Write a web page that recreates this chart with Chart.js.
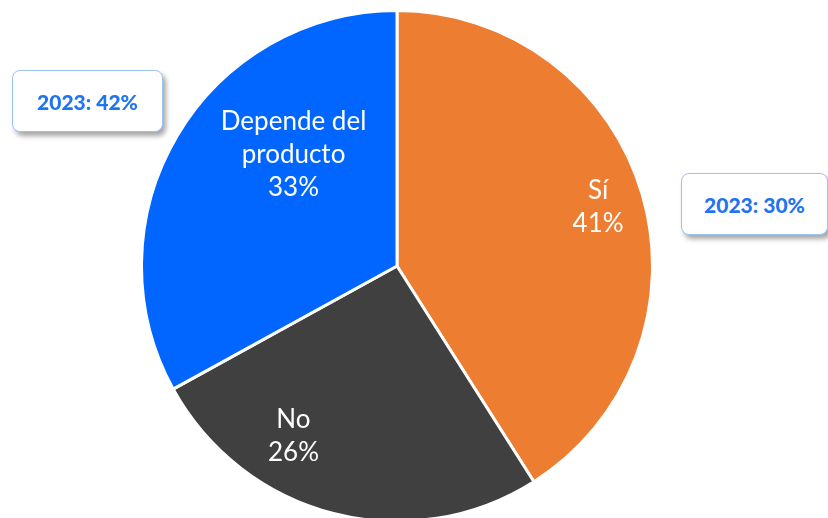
<!DOCTYPE html>
<html>
<head>
<meta charset="utf-8">
<script src="https://cdn.jsdelivr.net/npm/chart.js@4"></script>
<style>
  html, body { margin: 0; padding: 0; background: #fff; overflow: hidden; }
  body { width: 828px; height: 518px; position: relative; }
  #wrap { position: absolute; left: 140px; top: 9px; width: 514px; height: 514px; }
  .callout {
    position: absolute; box-sizing: border-box; height: 62px;
    background: #fff; border: 1px solid #9fc2f5; border-radius: 8px;
    box-shadow: 3px 4px 5px rgba(0, 0, 0, 0.35);
    font-family: Lato, sans-serif; font-weight: 900; font-size: 21px;
    color: #1f74f0; display: flex; align-items: center; justify-content: center;
  }
</style>
</head>
<body>
<div id="wrap"><canvas id="pieChart"></canvas></div>
<div class="callout" id="call2" style="left:12px; top:70px; width:151px;"></div>
<div class="callout" id="call0" style="left:681px; top:173px; width:147px;"></div>
<script>
  const categories = ['Sí', 'No', 'Depende del producto'];
  const values = [41, 26, 33];
  const colors = ['#ED7D31', '#404040', '#0066FF'];
  const prevYear = '2023';
  const prevValues = [30, null, 42];

  // label placement inside each slice: angle (deg, canvas) and fraction of radius
  const labelAngles = [-16.3, 121.3, -132.9];
  const labelRadii = [0.82, 0.78, 0.595];

  prevValues.forEach((v, i) => {
    const el = document.getElementById('call' + i);
    if (el && v !== null) el.textContent = prevYear + ': ' + v + '%';
  });

  function wrapText(ctx, text, maxWidth) {
    const words = text.split(' ');
    const lines = [];
    let line = '';
    words.forEach((w) => {
      const test = line ? line + ' ' + w : w;
      if (ctx.measureText(test).width > maxWidth && line) {
        lines.push(line);
        line = w;
      } else {
        line = test;
      }
    });
    lines.push(line);
    return lines;
  }

  const sliceLabels = {
    id: 'sliceLabels',
    afterDatasetsDraw(chart) {
      const ctx = chart.ctx;
      const meta = chart.getDatasetMeta(0);
      ctx.save();
      ctx.font = '26px Lato';
      ctx.fillStyle = '#ffffff';
      ctx.textAlign = 'center';
      ctx.textBaseline = 'middle';
      meta.data.forEach((arc, i) => {
        const a = labelAngles[i] * Math.PI / 180;
        const r = arc.outerRadius * labelRadii[i];
        const cx = arc.x + Math.cos(a) * r;
        const cy = arc.y + Math.sin(a) * r;
        const lines = wrapText(ctx, chart.data.labels[i], 180);
        lines.push(chart.data.datasets[0].data[i] + '%');
        const lh = 33;
        const y0 = cy - (lines.length - 1) * lh / 2;
        lines.forEach((ln, k) => ctx.fillText(ln, cx, y0 + k * lh));
      });
      ctx.restore();
    }
  };

  const ctx = document.getElementById('pieChart').getContext('2d');
  const pieChart = new Chart(ctx, {
    type: 'pie',
    data: {
      labels: categories,
      datasets: [{
        data: values,
        backgroundColor: colors,
        borderColor: '#ffffff',
        borderWidth: 3,
      }],
    },
    options: {
      responsive: true,
      maintainAspectRatio: false,
      animation: false,
      layout: { padding: 0 },
      plugins: {
        legend: { display: false },
        tooltip: { enabled: false },
      },
    },
    plugins: [sliceLabels],
  });
</script>
</body>
</html>
